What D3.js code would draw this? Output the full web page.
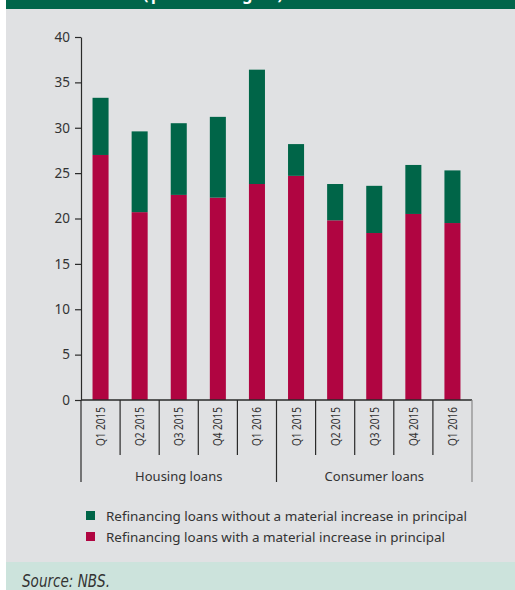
<!DOCTYPE html>
<html><head><meta charset="utf-8">
<script src="https://cdn.jsdelivr.net/npm/d3@7"></script>
<style>
html,body{margin:0;padding:0;background:#fff;}
svg{display:block;font-family:"Noto Sans","Open Sans",sans-serif;}
</style></head>
<body>
<script>
const groups = ["Housing loans", "Consumer loans"];
const quarters = ["Q1 2015", "Q2 2015", "Q3 2015", "Q4 2015", "Q1 2016"];
const withIncrease = [27.0, 20.7, 22.6, 22.3, 23.8, 24.7, 19.8, 18.4, 20.5, 19.5];
const withoutIncrease = [6.3, 8.9, 7.9, 8.9, 12.6, 3.5, 4.0, 5.2, 5.4, 5.8];
const yTicks = [0, 5, 10, 15, 20, 25, 30, 35, 40];
const seriesNames = ["Refinancing loans without a material increase in principal",
                     "Refinancing loans with a material increase in principal"];
const titleText = "(percentages)";
const sourceText = "Source: NBS.";

const W = 515, H = 590;
const GREEN = "#006548", RED = "#b00541";
const TXT = "#333";
const svg = d3.select("body").append("svg").attr("width", W).attr("height", H);

// backgrounds
svg.append("rect").attr("x", 6).attr("y", 0).attr("width", W - 6).attr("height", 9).attr("fill", "#00654a");
svg.append("text").attr("x", 213).attr("y", -0.5).attr("text-anchor", "middle")
  .attr("fill", "#fff").attr("font-size", 16).attr("font-weight", "bold")
  .attr("textLength", 140).attr("lengthAdjust", "spacing").text(titleText);
svg.append("rect").attr("x", 6).attr("y", 9).attr("width", W - 6).attr("height", 553).attr("fill", "#e0e1e3");
svg.append("rect").attr("x", 6).attr("y", 562).attr("width", W - 6).attr("height", 28).attr("fill", "#cce3dc");

const cats = [];
groups.forEach(g => quarters.forEach(q => cats.push(g + "|" + q)));

const x = d3.scaleBand().domain(cats).range([81, 472]).paddingInner(0.59).paddingOuter(0.295);
const y = d3.scaleLinear().domain([0, 40]).range([400, 37]);

const data = cats.map((c, i) => ({c, a: withIncrease[i], b: withoutIncrease[i]}));
const stack = d3.stack().keys(["a", "b"])(data);
const colors = {a: RED, b: GREEN};

svg.append("g").selectAll("g").data(stack).join("g")
  .attr("fill", d => colors[d.key])
  .selectAll("rect").data(d => d).join("rect")
  .attr("x", d => x(d.data.c)).attr("width", x.bandwidth())
  .attr("y", d => y(d[1])).attr("height", d => y(d[0]) - y(d[1]));

// y axis
const yAxis = svg.append("g").attr("transform", "translate(81,0)")
  .call(d3.axisLeft(y).tickValues(yTicks).tickSize(6).tickPadding(5).tickSizeOuter(0));
yAxis.select(".domain").attr("stroke", "#2a2a2a").attr("stroke-width", 1.2);
yAxis.selectAll(".tick line").attr("stroke", "#2a2a2a").attr("stroke-width", 1.2);
yAxis.selectAll("text").attr("font-size", 13.5).attr("fill", TXT).attr("font-family", "'Noto Sans'");

// x axis line
svg.append("line").attr("x1", 81).attr("x2", 472).attr("y1", 400).attr("y2", 400)
  .attr("stroke", "#2a2a2a").attr("stroke-width", 1.3);

// category separators
const step = x.step();
const bounds = d3.range(cats.length + 1).map(i => 81 + i * step);
bounds.forEach((bx, i) => {
  const isGroup = i % quarters.length === 0;
  svg.append("line").attr("x1", bx).attr("x2", bx).attr("y1", 400).attr("y2", isGroup ? 482 : 455)
    .attr("stroke", i === cats.length ? "#888" : "#2a2a2a").attr("stroke-width", 1.2);
});

// quarter labels
cats.forEach(c => {
  const cx = x(c) + x.bandwidth() / 2;
  svg.append("text").attr("transform", `translate(${cx + 4.5},407) rotate(-90)`)
    .attr("text-anchor", "end").attr("font-size", 12.5).attr("fill", TXT)
    .attr("textLength", 39).attr("lengthAdjust", "spacingAndGlyphs")
    .text(c.split("|")[1]);
});

// group labels
groups.forEach((g, gi) => {
  const gx = (bounds[gi * quarters.length] + bounds[(gi + 1) * quarters.length]) / 2;
  svg.append("text").attr("x", gx).attr("y", 481).attr("text-anchor", "middle")
    .attr("font-size", 13).attr("fill", TXT).text(g);
});

// legend
const leg = svg.append("g");
[[GREEN, seriesNames[0], 361], [RED, seriesNames[1], 339]].forEach(([col, name, len], i) => {
  const ly = 516 + i * 21;
  leg.append("rect").attr("x", 86).attr("y", ly - 5).attr("width", 9).attr("height", 9).attr("fill", col);
  leg.append("text").attr("x", 106).attr("y", ly + 4.5).attr("font-size", 13).attr("fill", TXT)
    .attr("textLength", len).attr("lengthAdjust", "spacingAndGlyphs").text(name);
});

// source
svg.append("text").attr("x", 22).attr("y", 587).attr("font-size", 17.5).attr("font-style", "italic")
  .attr("font-family", "'Liberation Sans Narrow','DejaVu Sans Condensed',sans-serif")
  .attr("textLength", 88).attr("lengthAdjust", "spacingAndGlyphs")
  .attr("fill", TXT).text(sourceText);
</script>
</body></html>
